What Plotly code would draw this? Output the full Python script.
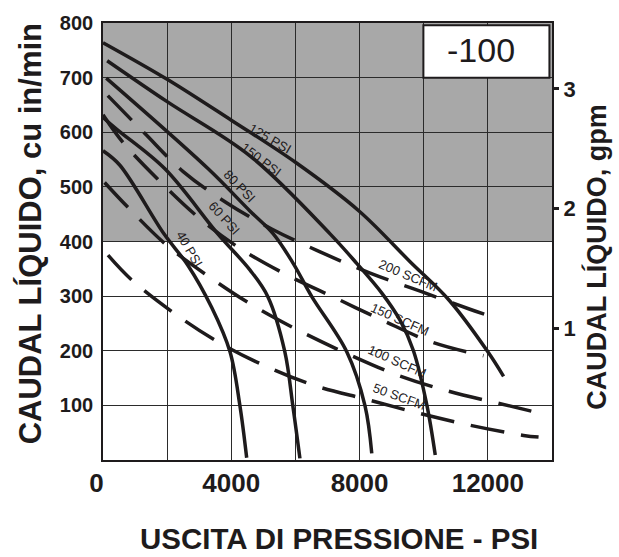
import plotly.graph_objects as go

# Outlet pressure (psi) vs liquid flow (cu in/min) for each air drive pressure
psi125_x = [0, 2000, 4000, 6000, 8000, 9575, 10800, 12000, 12490]
psi125_y = [764, 697, 622, 545, 455, 363, 292, 198, 153]
psi150_x = [130, 2000, 4600, 7080, 7910, 8700, 9270, 9680, 10100, 10360]
psi150_y = [731, 656, 556, 414, 360, 305, 255, 200, 100, 9]
psi80_x = [100, 3280, 4580, 5310, 5930, 6510, 7600, 8170, 8380]
psi80_y = [699, 533, 456, 414, 360, 299, 198, 99, 12]
psi60_x = [0, 460, 1930, 3580, 4580, 5140, 5670, 5920, 6140]
psi60_y = [627, 604, 533, 414, 348, 299, 198, 99, 3]
psi40_x = [0, 520, 1900, 2640, 3390, 3960, 4270, 4480]
psi40_y = [566, 540, 414, 357, 279, 198, 99, 4]

# Air consumption curves (dashed)
scfm200_x = [150, 1300, 2500, 3850, 5260, 6770, 8330, 9890, 11440, 12330]
scfm200_y = [667, 598, 528, 471, 423, 381, 342, 309, 276, 258]
scfm150_x = [0, 615, 1708, 2957, 4174, 5726, 7231, 8742, 10253, 11864]
scfm150_y = [632, 582, 514, 445, 391, 339, 297, 255, 216, 191]
scfm100_x = [50, 770, 1990, 3270, 4670, 6140, 7600, 9160, 10770, 12390, 13530]
scfm100_y = [508, 463, 393, 337, 283, 236, 195, 156, 126, 103, 87]
scfm50_x = [156, 887, 2186, 3590, 5101, 6663, 8223, 9888, 11501, 13112, 13581]
scfm50_y = [375, 330, 270, 216, 171, 135, 111, 85, 63, 45, 42]

x_ticks = [0, 2000, 4000, 6000, 8000, 10000, 12000, 14000]
x_tick_text = ["0\u2002", "", "4000", "", "8000", "", "12000", ""]
y_ticks = [0, 100, 200, 300, 400, 500, 600, 700, 800]
y_tick_text = ["", "100", "200", "300", "400", "500", "600", "700", "800"]
gpm_ticks = [1, 2, 3]
gpm_tick_text = ["1", "2", "3"]

INK = "#1e1b1c"
FONT = "Liberation Sans"

fig = go.Figure()

solid = [(psi125_x, psi125_y), (psi150_x, psi150_y), (psi80_x, psi80_y),
         (psi60_x, psi60_y), (psi40_x, psi40_y)]
dashed = [(scfm200_x, scfm200_y), (scfm150_x, scfm150_y),
          (scfm100_x, scfm100_y), (scfm50_x, scfm50_y)]

for xs, ys in solid:
    fig.add_trace(go.Scatter(x=xs, y=ys, mode="lines",
                             line=dict(color=INK, width=3.5, shape="spline", smoothing=1.0),
                             hoverinfo="skip", showlegend=False))
for xs, ys in dashed:
    fig.add_trace(go.Scatter(x=xs, y=ys, mode="lines",
                             line=dict(color=INK, width=3.5, shape="spline", smoothing=1.0,
                                       dash="34px,17px"),
                             hoverinfo="skip", showlegend=False))

# gpm scale on the right
fig.add_trace(go.Scatter(x=[], y=[], yaxis="y2", showlegend=False, hoverinfo="skip"))

# shaded upper band and the model box
fig.add_shape(type="rect", xref="x", yref="y", x0=0, x1=14000, y0=400, y1=800,
              fillcolor="#a8a8a8", line=dict(width=0), layer="below")
fig.add_shape(type="rect", xref="x", yref="y", x0=9990, x1=13920, y0=700, y1=796,
              fillcolor="white", line=dict(color=INK, width=2), layer="above")
fig.add_annotation(x=11780, y=751, xref="x", yref="y", text="-100", showarrow=False,
                   font=dict(family=FONT, size=34, color=INK))

labels = [
    ("125 PSI", 5204, 589, 30),
    ("150 PSI", 4923, 550, 37),
    ("80 PSI", 4268, 501, 46),
    ("60 PSI", 3799, 443, 48),
    ("40 PSI", 2707, 386, 60),
    ("200 SCFM", 9513, 337, 23),
    ("150 SCFM", 9263, 258, 24),
    ("100 SCFM", 9169, 180, 24),
    ("50 SCFM", 9232, 117, 20),
]
for text, lx, ly, ang in labels:
    fig.add_annotation(x=lx, y=ly, xref="x", yref="y", text=text, showarrow=False,
                       textangle=ang, font=dict(family=FONT, size=13, color=INK))

fig.add_annotation(x=-0.161, y=0.518, xref="paper", yref="paper",
                   xanchor="center", yanchor="middle",
                   text="CAUDAL LÍQUIDO, cu in/min", textangle=-90, showarrow=False,
                   font=dict(family=FONT, size=31, color=INK, weight="bold"))
fig.add_annotation(x=1.100, y=0.465, xref="paper", yref="paper",
                   xanchor="center", yanchor="middle",
                   text="CAUDAL LÍQUIDO, gpm", textangle=-90, showarrow=False,
                   font=dict(family=FONT, size=27, color=INK, weight="bold"))
fig.add_annotation(x=0.525, y=-0.180, xref="paper", yref="paper",
                   xanchor="center", yanchor="middle",
                   text="USCITA DI PRESSIONE - PSI", showarrow=False,
                   font=dict(family=FONT, size=29.5, color=INK, weight="bold"))

grid = dict(showgrid=True, gridcolor="#2b2b2b", gridwidth=1.2, zeroline=False,
            showline=True, linecolor=INK, linewidth=1.6, mirror=True, ticks="")

fig.update_layout(
    width=619, height=557,
    margin=dict(l=103, r=67, t=16, b=97),
    plot_bgcolor="white", paper_bgcolor="white",
    xaxis=dict(range=[0, 14000], tickvals=x_ticks, ticktext=x_tick_text,
               tickfont=dict(family=FONT, size=26, color=INK, weight="bold"),
               ticklabelstandoff=-1, **grid),
    yaxis=dict(range=[0, 800], tickvals=y_ticks, ticktext=y_tick_text,
               tickfont=dict(family=FONT, size=20, color=INK, weight="bold"),
               ticklabelstandoff=4, **grid),
    yaxis2=dict(overlaying="y", side="right", range=[-0.1, 3.55],
                tickvals=gpm_ticks, ticktext=gpm_tick_text, showgrid=False,
                zeroline=False, showline=False, ticks="outside", ticklen=6,
                tickwidth=3, tickcolor=INK, ticklabelstandoff=0,
                tickfont=dict(family=FONT, size=22, color=INK, weight="bold")),
)

fig.write_html("out.html")
